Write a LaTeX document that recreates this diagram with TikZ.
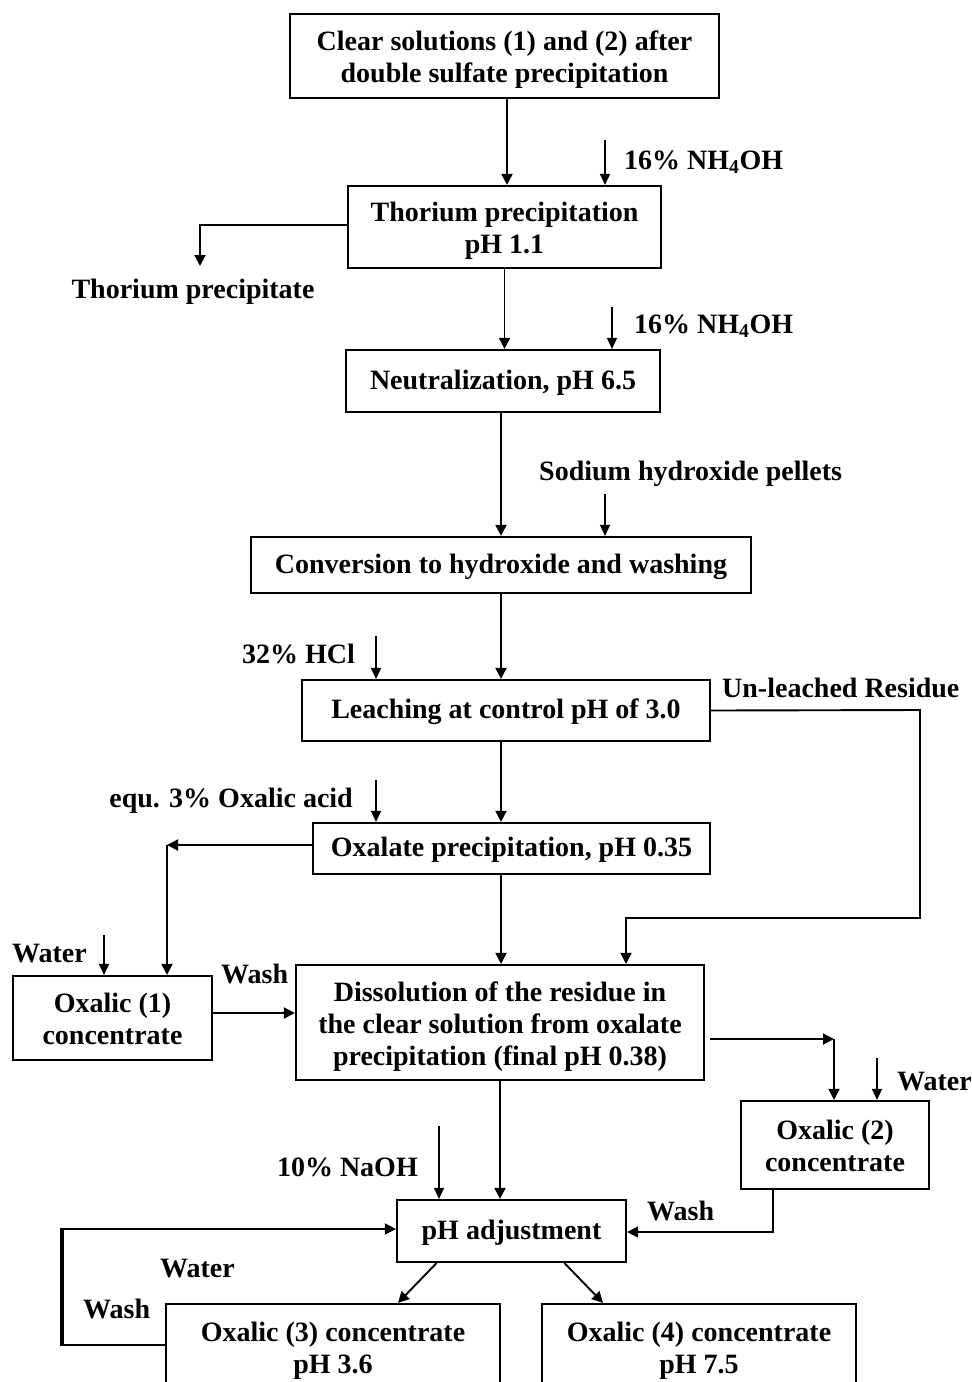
\documentclass[tikz,border=0pt]{standalone}
\usepackage{fontspec}
\setmainfont{Liberation Serif}
\usetikzlibrary{arrows.meta,calc}
\newcommand\mytopstrut{\rule{0pt}{29pt}}
\newcommand\mybotstrut{\rule[-8pt]{0pt}{8pt}}
\begin{document}
\begin{tikzpicture}[x=1pt,y=-1pt,
  font=\fontsize{28}{32}\selectfont\bfseries,
  box/.style={draw,line width=2.2pt,align=center,inner sep=0pt},
  sl/.style={execute at begin node={\rule{0pt}{24pt}},
    execute at end node={\rule[-8pt]{0pt}{8pt}}},
  lbl/.style={inner sep=0pt,text height=22pt,text depth=3pt},
  arr/.style={line width=1.9pt,-{Triangle[length=11pt,width=11pt]}},
  thin arr/.style={line width=1.5pt,-{Triangle[length=11pt,width=10pt]}},
  ln/.style={line width=1.9pt}]
\clip (0,0) rectangle (972,1382);
\fill[white] (0,0) rectangle (972,1382);
% boxes
\node[box,minimum width=429pt,minimum height=84pt] (b1) at (504.5,56) {\mytopstrut Clear solutions (1) and (2) after\\double sulfate precipitation\mybotstrut};
\node[box,minimum width=313pt,minimum height=82pt] (b2) at (504.5,227) {\mytopstrut Thorium precipitation\\pH 1.1\mybotstrut};
\node[box,sl,minimum width=314pt,minimum height=62pt] (b3) at (503,381) {Neutralization, pH 6.5};
\node[box,sl,minimum width=500pt,minimum height=56pt] (b4) at (501,565) {Conversion to hydroxide and washing};
\node[box,sl,minimum width=408pt,minimum height=61pt] (b5) at (506,710.5) {Leaching at control pH of 3.0};
\node[box,sl,minimum width=397pt,minimum height=51pt] (b6) at (511.5,848.5) {Oxalate precipitation, pH 0.35};
\node[box,minimum width=408pt,minimum height=115pt] (b7) at (500,1022.5) {\mytopstrut Dissolution of the residue in\\the clear solution from oxalate\\precipitation (final pH 0.38)\mybotstrut};
\node[box,minimum width=199pt,minimum height=84pt] (o1) at (112.5,1018) {\mytopstrut Oxalic (1)\\concentrate\mybotstrut};
\node[box,minimum width=188pt,minimum height=88pt] (o2) at (835,1145) {\mytopstrut Oxalic (2)\\concentrate\mybotstrut};
\node[box,sl,minimum width=229pt,minimum height=62pt] (ph) at (511.5,1231) {pH adjustment};
\node[box,minimum width=334pt,minimum height=86pt] (o3) at (333,1347) {\mytopstrut Oxalic (3) concentrate\\pH 3.6\mybotstrut};
\node[box,minimum width=314pt,minimum height=86pt] (o4) at (699,1347) {\mytopstrut Oxalic (4) concentrate\\pH 7.5\mybotstrut};
% labels
\node[lbl,anchor=west] (l1) at (624,160) {16\% NH\textsubscript{4}OH};
\node[lbl,anchor=west] (l2) at (634,324) {16\% NH\textsubscript{4}OH};
\node[lbl] (l3) at (193,289) {Thorium precipitate};
\node[lbl,anchor=west] (l4) at (539,471) {Sodium hydroxide pellets};
\node[lbl,anchor=east] (l5) at (355,654) {32\% HCl};
\node[lbl,anchor=west] (l6) at (722,688) {Un-leached Residue};
\node[lbl,anchor=east] (l7) at (353,798) {equ. 3\% Oxalic acid};
\node[lbl,anchor=west] (l8) at (12,953) {Water};
\node[lbl,anchor=west] (l9) at (221,974) {Wash};
\node[lbl,anchor=west] (l10) at (897,1081) {Water};
\node[lbl,anchor=east] (l11) at (418,1167) {10\% NaOH};
\node[lbl,anchor=west] (l12) at (647,1211) {Wash};
\node[lbl,anchor=west] (l13) at (160,1268) {Water};
\node[lbl,anchor=west] (l14) at (83,1309) {Wash};
% coordinates
\coordinate (n1) at (605,140);
\coordinate (n2) at (612,307);
\coordinate (n3) at (605,494);
\coordinate (n4) at (376,636);
\coordinate (n5) at (376,780);
\coordinate (n6) at (439,1126);
\coordinate (w1) at (104,935);
\coordinate (w2) at (877,1058);
\coordinate (t1) at (200,225);
\coordinate (t2) at (200,266);
\coordinate (r1) at (920,710);
\coordinate (r2) at (920,918);
\coordinate (r3) at (626,918);
\coordinate (c1) at (167,845);
\coordinate (c2) at (834,1039);
\coordinate (g1) at (773,1232);
\coordinate (lp1) at (62,1345);
\coordinate (lp2) at (62,1229);
% main flow
\draw[arr] ([xshift=2.5pt]b1.south) -- ([xshift=2.5pt]b2.north);
\draw[arr] (b2.south) -- (b2.south |- b3.north);
\draw[arr] (b3.south -| b4.south) -- (b4.north);
\draw[arr] (b4.south) -- (b4.south |- b5.north);
\draw[arr] (b5.south -| b4.south) -- (b4.south |- b6.north);
\draw[arr] (b6.south -| b4.south) -- (b4.south |- b7.north);
\draw[arr] (b7.south) -- (b7.south |- ph.north);
% reagent arrows
\draw[thin arr] (n1) -- (n1 |- b2.north);
\draw[thin arr] (n2) -- (n2 |- b3.north);
\draw[thin arr] (n3) -- (n3 |- b4.north);
\draw[thin arr] (n4) -- (n4 |- b5.north);
\draw[thin arr] (n5) -- (n5 |- b6.north);
\draw[thin arr] (n6) -- (n6 |- ph.north);
\draw[thin arr] (w1) -- (w1 |- o1.north);
\draw[thin arr] (w2) -- (w2 |- o2.north);
% side streams
\draw[arr] (b2.west |- t1) -- (t1) -- (t2);
\draw[arr] (b5.east) -- (r1) -- (r2) -- (r3) -- (r3 |- b7.north);
\draw[arr] (b6.west |- c1) -- (c1);
\draw[arr] (c1) -- (c1 |- o1.north);
\draw[arr] ([yshift=5pt]o1.east) -- ([yshift=5pt]o1.east -| b7.west);
\draw[arr] ([xshift=5pt]b7.east |- c2) -- (c2);
\draw[arr] (c2) -- (c2 |- o2.north);
\draw[arr] (g1 |- o2.south) -- (g1) -- (g1 -| ph.east);
\draw[arr] ([xshift=-75pt]ph.south) -- ([xshift=65pt]o3.north);
\draw[arr] ([xshift=53pt]ph.south) -- ([xshift=-96pt]o4.north);
\draw[ln] (o3.west |- lp1) -- (lp1);
\draw[line width=4pt] ([yshift=-1pt]lp1) -- ([yshift=1pt]lp2);
\draw[arr] (lp2) -- (lp2 -| ph.west);
\end{tikzpicture}
\end{document}
